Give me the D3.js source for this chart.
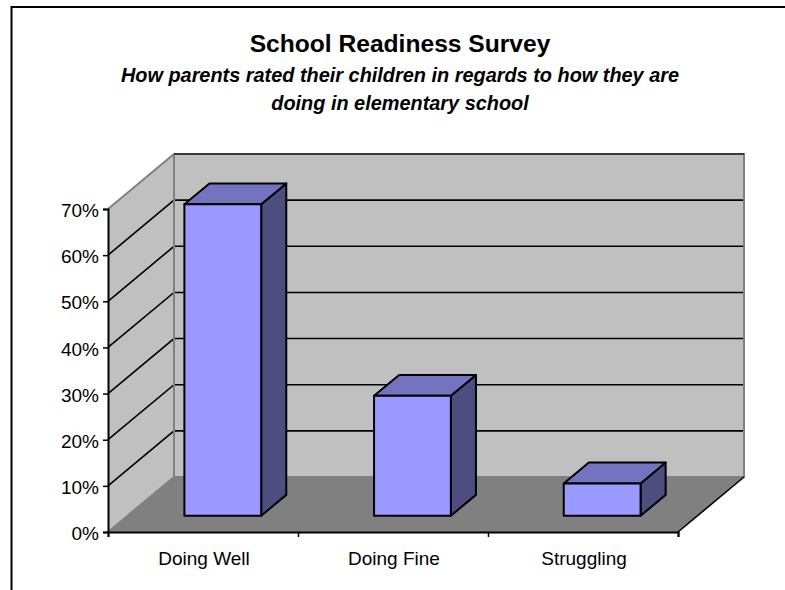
<!DOCTYPE html>
<html>
<head>
<meta charset="utf-8">
<script src="https://cdn.jsdelivr.net/npm/d3@7"></script>
<style>
  html, body { margin: 0; padding: 0; background: #fff; }
  svg { display: block; }
  text { font-family: "Liberation Sans", Arial, sans-serif; fill: #000; }
</style>
</head>
<body>
<svg id="chart" width="785" height="590"></svg>
<script>
const categories = ["Doing Well", "Doing Fine", "Struggling"];
const values = [0.675, 0.26, 0.07];
const tickValues = [0, 0.1, 0.2, 0.3, 0.4, 0.5, 0.6, 0.7];
const titleLines = ["School Readiness Survey"];
const subtitleLines = [
  "How parents rated their children in regards to how they are",
  "doing in elementary school"
];

const svg = d3.select("#chart");

// outer frame, only the top and left edges fall inside the picture
svg.append("polyline")
  .attr("points", "11.5,590 11.5,7 785,7")
  .attr("fill", "none").attr("stroke", "#000").attr("stroke-width", 2);

// titles
svg.append("text").attr("x", 400).attr("y", 52)
  .attr("text-anchor", "middle").attr("font-size", 24.6).attr("font-weight", "bold")
  .text(titleLines[0]);
subtitleLines.forEach(function (line, i) {
  svg.append("text").attr("x", 400).attr("y", 81.5 + i * 28.5)
    .attr("text-anchor", "middle").attr("font-size", 19.9)
    .attr("font-weight", "bold").attr("font-style", "italic")
    .text(line);
});

// front plane scales, the depth is a shift up and to the right
const y = d3.scaleLinear().domain([0, 0.7]).range([532, 209]);
const x = d3.scaleBand().domain(categories).range([108, 678]).paddingInner(0.595).paddingOuter(0.3);
const x0 = 108, x1 = 678;
const depthX = 66, depthY = -55;
const barFront = 0.295, barBack = 0.675;

const pts = a => a.map(p => p.join(",")).join(" ");
const topValue = tickValues[tickValues.length - 1];

// back wall
svg.append("polygon")
  .attr("points", pts([
    [x0 + depthX, y(topValue) + depthY], [x1 + depthX, y(topValue) + depthY],
    [x1 + depthX, y(0) + depthY], [x0 + depthX, y(0) + depthY]
  ]))
  .attr("fill", "#c0c0c0");

// side wall
svg.append("polygon")
  .attr("points", pts([
    [x0, y(topValue)], [x0 + depthX, y(topValue) + depthY],
    [x0 + depthX, y(0) + depthY], [x0, y(0)]
  ]))
  .attr("fill", "#c0c0c0");

// floor
svg.append("polygon")
  .attr("points", pts([
    [x0, y(0)], [x0 + depthX, y(0) + depthY],
    [x1 + depthX, y(0) + depthY], [x1, y(0)]
  ]))
  .attr("fill", "#808080");

// gridlines on side and back walls
svg.append("g").selectAll("polyline")
  .data(tickValues.filter(d => d > 0 && d < topValue))
  .enter()
  .append("polyline")
  .attr("points", d => pts([[x0, y(d)], [x0 + depthX, y(d) + depthY], [x1 + depthX, y(d) + depthY]]))
  .attr("fill", "none").attr("stroke", "#000").attr("stroke-width", 1.6);

// wall edges
svg.append("polyline")
  .attr("points", pts([
    [x0, y(topValue)], [x0 + depthX, y(topValue) + depthY], [x1 + depthX, y(topValue) + depthY],
    [x1 + depthX, y(0) + depthY], [x0 + depthX, y(0) + depthY], [x0, y(0)]
  ]))
  .attr("fill", "none").attr("stroke", "#808080").attr("stroke-width", 2);
svg.append("line")
  .attr("x1", x0 + depthX).attr("x2", x0 + depthX)
  .attr("y1", y(topValue) + depthY).attr("y2", y(0) + depthY)
  .attr("stroke", "#808080").attr("stroke-width", 2);
svg.append("line")
  .attr("x1", x0 + depthX).attr("x2", x1 + depthX)
  .attr("y1", y(topValue) + depthY).attr("y2", y(topValue) + depthY)
  .attr("stroke", "#222").attr("stroke-width", 1.6);
svg.append("line")
  .attr("x1", x1).attr("y1", y(0))
  .attr("x2", x1 + depthX).attr("y2", y(0) + depthY)
  .attr("stroke", "#000").attr("stroke-width", 1.6);

// bars
const fx = depthX * barFront, fy = depthY * barFront;
const bx = depthX * barBack, by = depthY * barBack;
const bars = svg.append("g").selectAll("g")
  .data(categories.map((c, i) => ({ c: c, v: values[i] })))
  .enter()
  .append("g")
  .attr("stroke", "#000").attr("stroke-width", 2).attr("stroke-linejoin", "round");

bars.append("polygon")
  .attr("fill", "#4d4d80")
  .attr("points", d => {
    const r = x(d.c) + x.bandwidth();
    return pts([
      [r + fx, y(d.v) + fy], [r + bx, y(d.v) + by],
      [r + bx, y(0) + by], [r + fx, y(0) + fy]
    ]);
  });
bars.append("polygon")
  .attr("fill", "#7373bf")
  .attr("points", d => {
    const l = x(d.c), r = l + x.bandwidth();
    return pts([
      [l + fx, y(d.v) + fy], [l + bx, y(d.v) + by],
      [r + bx, y(d.v) + by], [r + fx, y(d.v) + fy]
    ]);
  });
bars.append("rect")
  .attr("fill", "#9999ff")
  .attr("x", d => x(d.c) + fx)
  .attr("y", d => y(d.v) + fy)
  .attr("width", x.bandwidth())
  .attr("height", d => y(0) - y(d.v));

// y axis
const yAxis = d3.axisLeft(y).tickValues(tickValues).tickFormat(d3.format(".0%")).tickSize(5).tickPadding(4);
const gy = svg.append("g").attr("transform", `translate(${x0},0)`).call(yAxis);

// x axis, ticks sit on the band edges so the labels are added by hand
const xEdges = d3.scalePoint().domain(d3.range(categories.length + 1)).range([x0, x1]);
const gx = svg.append("g").attr("transform", `translate(0,${y(0)})`)
  .call(d3.axisBottom(xEdges).tickSize(5).tickFormat(""));
svg.append("g").selectAll("text")
  .data(categories)
  .enter()
  .append("text")
  .attr("x", (d, i) => (xEdges(i) + xEdges(i + 1)) / 2 + 1)
  .attr("y", 564.5)
  .attr("text-anchor", "middle")
  .attr("font-size", 19)
  .text(d => d);

[gy, gx].forEach(function (g) {
  g.selectAll(".domain").attr("stroke", "#000").attr("stroke-width", 2);
  g.selectAll(".tick line").attr("stroke", "#000").attr("stroke-width", 1.5);
});
gy.selectAll(".tick text")
  .attr("font-family", '"Liberation Sans", Arial, sans-serif')
  .attr("font-size", 19)
  .attr("y", 1.5);
</script>
</body>
</html>
